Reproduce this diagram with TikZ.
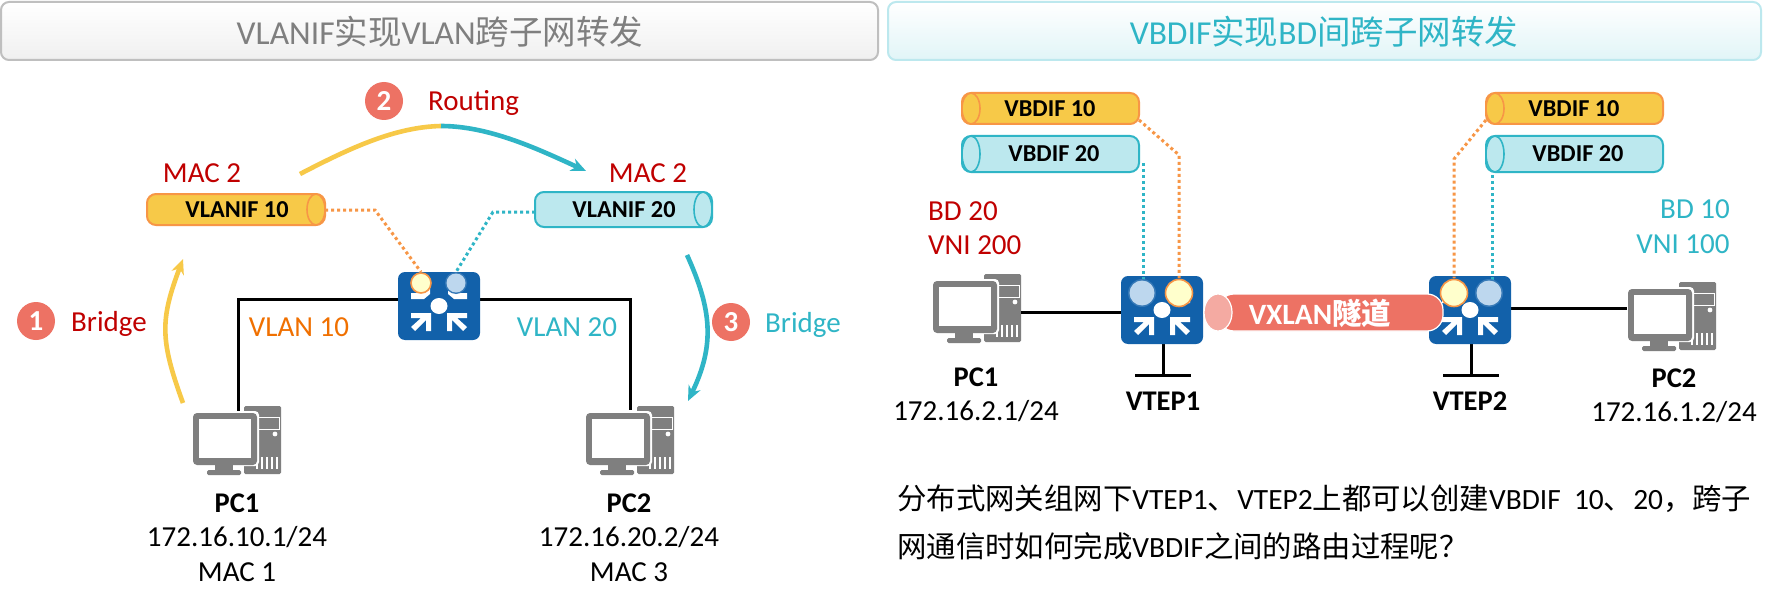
\documentclass[tikz,border=0pt]{standalone}
\usepackage{fontspec}
\setmainfont{Carlito}
\newfontfamily\cjk{Noto Sans CJK SC}
\usetikzlibrary{arrows.meta,calc}
\definecolor{cred}{HTML}{C00000}
\definecolor{corange}{HTML}{F07000}
\definecolor{cteal}{HTML}{2FB5C6}
\definecolor{cyel}{HTML}{F7C948}
\definecolor{cdot}{HTML}{F79646}
\definecolor{cbluef}{HTML}{BCE8EE}
\definecolor{csalmon}{HTML}{ED7264}
\definecolor{crouter}{HTML}{1261AA}
\definecolor{cgrey}{HTML}{7F7F7F}
\definecolor{cbub}{HTML}{BDD7EE}
\definecolor{cyb}{HTML}{FFFFCC}
\tikzset{
  x=1pt,y=-1pt,
  lbl/.style={font=\fontsize{29}{29}\selectfont,inner sep=0pt,anchor=center},
  bodytxt/.style={font=\fontsize{29.4}{29.4}\selectfont,inner sep=0pt,anchor=west},
  bold/.style={font=\fontsize{24.3}{24.3}\selectfont\bfseries,inner sep=0pt,anchor=center},
  blbl/.style={font=\fontsize{28.5}{28.5}\selectfont\bfseries,inner sep=0pt,anchor=center},
  num/.style={circle,fill=csalmon,text=white,minimum size=38pt,inner sep=0pt,font=\fontsize{29}{29}\selectfont\bfseries},
  wire/.style={draw=black,line width=3pt},
  dotline/.style={line width=3pt,dash pattern=on 3pt off 3pt},
  flow/.style={line width=4.6pt},
  head/.style={draw=#1,line width=2pt,rounded corners=8pt}
}
\newcommand{\pcicon}[1]{\begin{scope}[shift={(#1)}]
  \fill[cgrey,rounded corners=1.5pt] (7,-34) rectangle (44,34);
  \draw[white,line width=1pt] (16,-23) rectangle (42,-11);
  \fill[white] (38,-6) circle (2.4);
  \foreach \q in {20,25,30,35,40}{\draw[white,line width=1.1pt] (\q,17) -- (\q,29);}
  \fill[white,rounded corners=4pt] (-46,-29) rectangle (22,26);
  \fill[cgrey,rounded corners=4pt] (-44,-27) rectangle (20,25);
  \fill[white] (-38,-21) rectangle (14,18);
  \fill[cgrey] (-22,25) rectangle (-4,30);
  \fill[cgrey,rounded corners=1.5pt] (-30,30) rectangle (4,35);
\end{scope}}
\newcommand{\routericon}[1]{\begin{scope}[shift={(#1)}]
  \fill[crouter,rounded corners=7pt] (-41,-34) rectangle (41,34);
  \fill[white] (0,0) ellipse (8.5 and 8);
  \foreach \s in {1,-1}{
   \begin{scope}[xscale=\s]
    \fill[white] (-28,-13) -- (-16,-13) -- (-9,-20) -- (-9,-12) -- (-15,-7) -- (-28,-7) -- cycle;
    \fill[white] (-28,7) -- (-8,7) -- (-8,25) -- (-13,25) -- (-13,14) -- (-24,25) -- (-28,21) -- (-18,12) -- (-28,12) -- cycle;
   \end{scope}}
\end{scope}}
\newcommand{\cylR}[6]{
  \filldraw[fill=#5,draw=#6,line width=2pt,rounded corners=9pt] (#1,#2) rectangle (#3,#4);
  \filldraw[fill=#5,draw=#6,line width=1.6pt] ({#3-9},{(#2+#4)/2}) ellipse (9 and {(#4-#2)/2});
}
\newcommand{\cylL}[6]{
  \filldraw[fill=#5,draw=#6,line width=2pt,rounded corners=9pt] (#1,#2) rectangle (#3,#4);
  \filldraw[fill=#5,draw=#6,line width=1.6pt] ({#1+9},{(#2+#4)/2}) ellipse (9 and {(#4-#2)/2});
}
\begin{document}
\begin{tikzpicture}
\useasboundingbox (0,0) rectangle (1780,607);
\fill[white] (0,0) rectangle (1780,607);

% headers
\draw[head=black!25,top color=white,bottom color=black!6] (1,2) rectangle (878,60);
\draw[head=cbluef,top color=white,bottom color=cbluef!45] (888,2) rectangle (1761,60);
\node[inner sep=0pt,text=cgrey,font=\fontsize{33.5}{33.5}\selectfont] (t1) at (440,32) {VLANIF{\cjk 实现}VLAN{\cjk 跨子网转发}};
\node[inner sep=0pt,text=cteal,font=\fontsize{33.5}{33.5}\selectfont] (t2) at (1324,32) {VBDIF{\cjk 实现}BD{\cjk 间跨子网转发}};

% ---- left
\coordinate (lpc1) at (237,440);
\coordinate (lpc2) at (630,440);
\coordinate (lr) at (439,306);
\draw[wire] (238,412) -- (238,299) -- (400,299);
\draw[wire] (478,299) -- (630,299) -- (630,410);
\pcicon{lpc1}
\pcicon{lpc2}
\routericon{lr}
\draw[cdot,dotline] (325,210) -- (375,210) -- (421,272);
\draw[cteal,dotline] (535,212) -- (493,212) -- (456,272);
\filldraw[fill=cyb,draw=cdot,line width=1.6pt] (421,283) circle (10);
\fill[crouter!85!white] (456,283) circle (11);
\fill[cbub] (456,283) circle (9.5);

\cylR{147}{194}{325}{225}{cyel}{cdot}
\node[bold] (v10) at (237,210) {VLANIF 10};
\cylR{535}{192}{712}{227}{cbluef}{cteal}
\node[bold] (v20) at (624,210) {VLANIF 20};

\node[lbl,text=cred] (m1) at (202,173) {MAC 2};
\node[lbl,text=cred] (m2) at (648,173) {MAC 2};
\node[lbl,text=corange] (vl10) at (299,327) {VLAN 10};
\node[lbl,text=cteal] (vl20) at (567,327) {VLAN 20};

\node[num] (n1) at (36,321) {1};
\node[lbl,text=cred,anchor=west] (br1) at (71,324) {Bridge};
\node[num] (n2) at (384,101) {2};
\node[lbl,text=cred,anchor=west] (rt) at (428,103) {Routing};
\node[num] (n3) at (731,322) {3};
\node[lbl,text=cteal,anchor=west] (br2) at (765,325) {Bridge};

\draw[flow,cyel,-{Stealth[length=15pt,width=13pt]}] (183,403) .. controls (160,340) and (160,320) .. (183,259);
\draw[flow,cyel] (300,174) .. controls (350,148) and (395,127) .. (441,126);
\draw[flow,cteal,-{Stealth[length=15pt,width=13pt]}] (441,126) .. controls (490,126) and (540,150) .. (586,171);
\draw[flow,cteal,-{Stealth[length=15pt,width=13pt]}] (687,255) .. controls (712,310) and (715,345) .. (688,401);

\node[blbl] (p1) at (237,503) {PC1};
\node[lbl] (i1) at (237,537) {172.16.10.1/24};
\node[lbl] (a1) at (237,572) {MAC 1};
\node[blbl] (p2) at (629,503) {PC2};
\node[lbl] (i2) at (629,537) {172.16.20.2/24};
\node[lbl] (a2) at (629,572) {MAC 3};

% ---- right
\coordinate (rpc1) at (977,308);
\coordinate (rpc2) at (1672,316);
\coordinate (r1) at (1162,310);
\coordinate (r2) at (1470,310);
\coordinate (b1) at (1163,375);
\coordinate (b2) at (1471,375);
\pcicon{rpc1}
\pcicon{rpc2}
\draw[wire] (1021,312) -- (1125,312);
\draw[wire] (1505,308) -- (1627,308);
\draw[wire] (1163,344) -- (b1);
\draw[wire] (1135,375) -- (1191,375);
\draw[wire] (1471,344) -- (b2);
\draw[wire] (1443,375) -- (1499,375);
\routericon{r1}
\routericon{r2}

\draw[cdot,dotline] (1139,120) -- (1179,155) -- (1179,278);
\draw[cteal,dotline] (1143,163) -- (1143,280);
\draw[cdot,dotline] (1486,120) -- (1454,159) -- (1454,278);
\draw[cteal,dotline] (1492,163) -- (1492,280);

% tunnel
\filldraw[fill=csalmon,draw=white,line width=1.2pt,rounded corners=16pt] (1218,294) rectangle (1443,331);
\filldraw[fill=csalmon!60!white,draw=white,line width=1.2pt] (1218,312.5) ellipse (14 and 18.5);
\node[inner sep=0pt,text=white,font=\fontsize{29.5}{29.5}\selectfont\bfseries] (tun) at (1320,313) {VXLAN{\cjk\bfseries 隧道}};

\fill[crouter!85!white] (1142,293) circle (14);
\fill[cbub] (1142,293) circle (12.5);
\filldraw[fill=cyb,draw=cdot,line width=1.6pt] (1179,293) circle (13.5);
\filldraw[fill=cyb,draw=cdot,line width=1.6pt] (1454,293) circle (13.5);
\fill[crouter!85!white] (1489,293) circle (14);
\fill[cbub] (1489,293) circle (12.5);

\cylL{962}{93}{1139}{124}{cyel}{cdot}
\cylL{962}{136}{1139}{172}{cbluef}{cteal}
\node[bold] (c1) at (1050,109) {VBDIF 10};
\node[bold] (c2) at (1054,154) {VBDIF 20};
\cylL{1486}{93}{1663}{124}{cyel}{cdot}
\cylL{1486}{136}{1663}{172}{cbluef}{cteal}
\node[bold] (c3) at (1574,109) {VBDIF 10};
\node[bold] (c4) at (1578,154) {VBDIF 20};

\node[lbl,text=cred,anchor=west] (bd1) at (928,211) {BD 20};
\node[lbl,text=cred,anchor=west] (vn1) at (928,245) {VNI 200};
\node[lbl,text=cteal] (bd2) at (1695,209) {BD 10};
\node[lbl,text=cteal] (vn2) at (1683,244) {VNI 100};

\node[blbl] (pp1) at (976,377) {PC1};
\node[lbl] (ii1) at (976,411) {172.16.2.1/24};
\node[blbl] (vt1) at (1163,401) {VTEP1};
\node[blbl] (vt2) at (1470,401) {VTEP2};
\node[blbl] (pp2) at (1674,378) {PC2};
\node[lbl] (ii2) at (1674,412) {172.16.1.2/24};

\node[bodytxt] (body1) at (897,499) {{\cjk 分布式网关组网下}VTEP1{\cjk 、}VTEP2{\cjk 上都可以创建}VBDIF\ \ 10{\cjk 、}20{\cjk ，跨子}};
\node[bodytxt] (body2) at (897,546) {{\cjk 网通信时如何完成}VBDIF{\cjk 之间的路由过程呢？}};
\end{tikzpicture}
\end{document}
